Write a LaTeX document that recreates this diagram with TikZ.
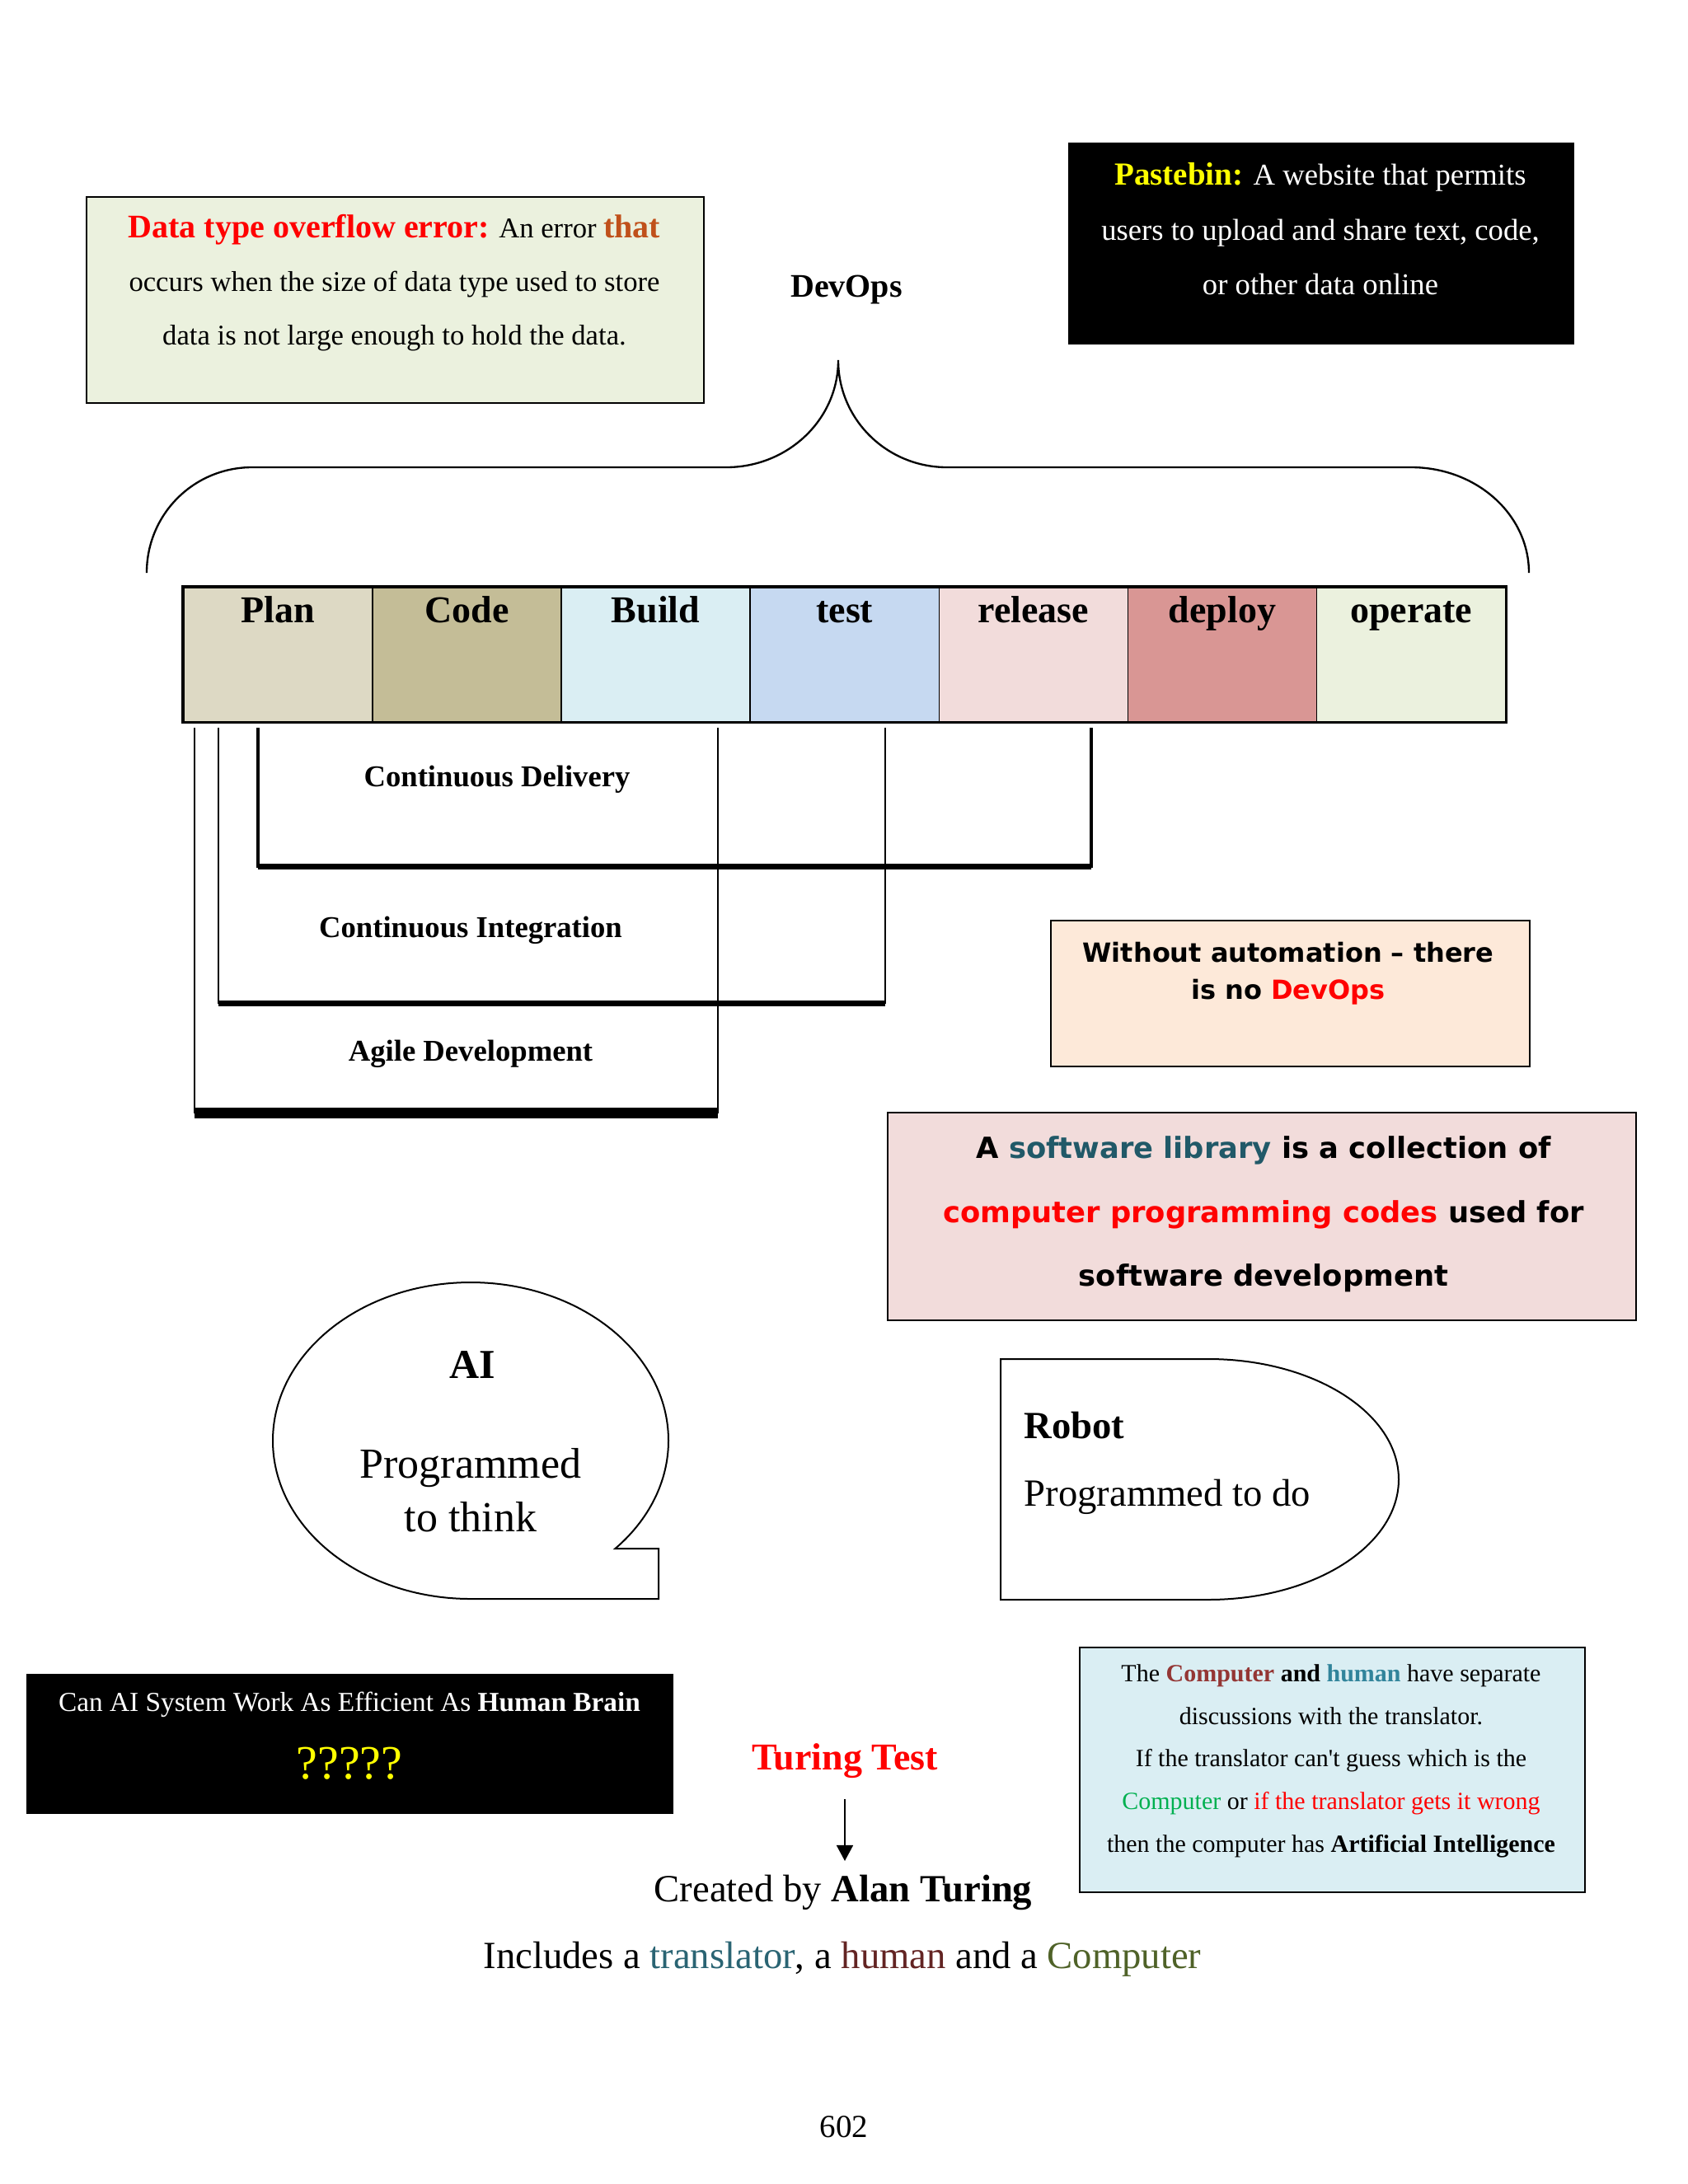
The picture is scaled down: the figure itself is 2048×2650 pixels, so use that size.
\documentclass[tikz,border=0pt]{standalone}
\usepackage{fontspec}
\setmainfont{Liberation Serif}
\newfontfamily\dvsans{DejaVu Sans}
\usetikzlibrary{arrows.meta}
\definecolor{cPlan}{HTML}{DDD9C4}
\definecolor{cCode}{HTML}{C4BD97}
\definecolor{cBuild}{HTML}{DAEEF3}
\definecolor{cTest}{HTML}{C6D9F1}
\definecolor{cRel}{HTML}{F2DCDB}
\definecolor{cDep}{HTML}{D99694}
\definecolor{cOp}{HTML}{EBF1DE}
\definecolor{cPeach}{HTML}{FDE9D9}
\definecolor{cThat}{HTML}{C0501A}
\definecolor{cTeal}{HTML}{215968}
\definecolor{cTrans}{HTML}{2A6473}
\definecolor{cCompRed}{HTML}{943634}
\definecolor{cHum}{HTML}{31849B}
\definecolor{cGreen}{HTML}{00B050}
\definecolor{cHuman}{HTML}{632423}
\definecolor{cOlive}{HTML}{4F6228}
\definecolor{cYel}{HTML}{FFFF00}
\newcommand{\fsz}[2]{\fontsize{#1}{#2}\selectfont}
\begin{document}
\begin{tikzpicture}[x=0.3pt, y=-0.3pt,
  box/.style={draw, line width=0.7pt, inner sep=0pt, anchor=north west},
  txt/.style={inner sep=0pt, align=center, anchor=north},
  one/.style={inner sep=0pt, anchor=base},
  phase/.style={draw, line width=0.45pt, inner sep=0pt, anchor=north west,
    minimum width=68.74pt, minimum height=48.9pt, text height=12.9pt, text depth=36pt,
    font=\bfseries\fsz{13.8}{16}},
  bk/.style={line width=0.6pt},
  bar/.style={line width=2.1pt},
  arr/.style={line width=0.5pt, -{Triangle[length=5.7pt,width=6pt]}},
  blob/.style={draw, line width=0.6pt},
  lbl/.style={one, font=\bfseries\fsz{11}{13}}
]
\useasboundingbox[fill=white] (0,0) rectangle (2048,2650);

% Data type overflow box
\node[box, fill=cOp, minimum width=224.7pt, minimum height=75pt] (dtbox) at (104,238) {};
\node[txt, font=\fsz{10.4}{19.5}] (dttext) at (478.5,242.5) {\strut{\bfseries\fsz{12}{19.5}\color{red}Data type overflow error:} An error {\bfseries\fsz{12}{19.5}\color{cThat}that}\\ occurs when the size of data type used to store\\ data is not large enough to hold the data.};

% Pastebin box
\node[box, fill=black, minimum width=183.6pt, minimum height=72.9pt] (paste) at (1296,173) {};
\node[txt, text=white, font=\fsz{11}{19.95}] (pastetext) at (1602,177.5) {\strut{\bfseries\fsz{11.7}{19.95}\color{cYel}Pastebin:} A website that permits\\ users to upload and share text, code,\\ or other data online};

% DevOps and brace
\node[one, font=\bfseries\fsz{12}{14}] (devops) at (1027,360) {DevOps};
\draw[line width=0.7pt] (178,695) .. controls (178,624) and (235,567) .. (306,567) -- (881,567)
  .. controls (956,567) and (1017,509) .. (1017,437)
  .. controls (1017,509) and (1076,567) .. (1149,567) -- (1712,567)
  .. controls (1791,567) and (1855,624) .. (1855,695);

% Phases
\foreach \i/\nm/\col/\lab in {0/plan/cPlan/Plan, 1/code/cCode/Code, 2/build/cBuild/Build, 3/test/cTest/test, 4/release/cRel/release, 5/deploy/cDep/deploy, 6/operate/cOp/operate}
  \node[phase, fill=\col] (\nm) at ({222+229.14*\i},712) {\lab};
\draw[line width=1pt] (plan.north west) rectangle (operate.south east);

% Brackets
\draw[bk] (236,883) -- (236,1350) -- (871,1350) -- (871,883);
\draw[line width=3.9pt] (236,1350) -- (871,1350);
\draw[bk] (265,883) -- (265,1217) -- (1074,1217) -- (1074,883);
\draw[bar] (265,1217) -- (1074,1217);
\draw[line width=1.2pt] (313,883) -- (313,1051) -- (1324,1051) -- (1324,883);
\draw[bar] (313,1051) -- (1324,1051);
\node[lbl] (cd) at (603,954) {Continuous Delivery};
\node[lbl] (ci) at (571,1137) {Continuous Integration};
\node[lbl] (agile) at (571,1287) {Agile Development};

% Without automation box
\node[box, fill=cPeach, minimum width=174.3pt, minimum height=53.1pt] (noauto) at (1274,1116) {};
\node[txt, font=\dvsans\bfseries\fsz{9.6}{13.5}] (noautotext) at (1563,1135.5) {\strut Without automation – there\\ is no {\color{red}DevOps}};

% Software library box
\node[box, fill=cRel, minimum width=272.4pt, minimum height=75.6pt] (lib) at (1076,1349) {};
\node[txt, font=\dvsans\bfseries\fsz{10.6}{23.25}] (libtext) at (1533,1350.75) {\strut A {\color{cTeal}software library} is a collection of\\ {\color{red}computer programming codes} used for\\ software development};

% AI callout
\draw[blob] (571,1940) arc[start angle=90, end angle=403.1, x radius=240, y radius=192] -- (799,1879) -- (799,1940) -- cycle;
\node[one, font=\bfseries\fsz{15}{18}] (ai) at (573,1672) {AI};
\node[txt, font=\fsz{15.6}{19.5}] (aitext) at (571,1747.5) {\strut Programmed\\ to think};

% Robot
\draw[blob] (1214,1649) -- (1466,1649) arc[start angle=270, end angle=450, x radius=231, y radius=146] -- (1214,1941) -- cycle;
\node[one, anchor=base west, font=\bfseries\fsz{14}{17}] (robot) at (1242,1745) {Robot};
\node[one, anchor=base west, font=\fsz{14}{17}] (robottext) at (1242,1827) {Programmed to do};

% Can AI box
\node[box, fill=black, minimum width=234.9pt, minimum height=50.4pt] (canai) at (32,2031) {};
\node[txt, text=white, font=\fsz{10}{24.6}] (canaitext) at (424,2018.6) {\strut Can AI System Work As Efficient As \textbf{Human Brain}\\ {\fsz{17.4}{20}\color{cYel}?????}};

% Turing test
\node[one, font=\bfseries\fsz{13.8}{16}, text=red] (turing) at (1025,2147) {Turing Test};
\node[one, font=\fsz{14}{17}] (created) at (1023,2307) {Created by \textbf{Alan Turing}};
\draw[arr, shorten <=7.5pt, shorten >=4.8pt] (turing.south) -- (turing.south |- created.north);
\node[one, font=\fsz{14}{17}] (includes) at (1022,2388) {Includes a {\color{cTrans}translator}, a {\color{cHuman}human} and a {\color{cOlive}Computer}};

% Turing box
\node[box, fill=cBuild, minimum width=183.9pt, minimum height=89.1pt] (tbox) at (1309,1998) {};
\node[txt, font=\fsz{9}{15.5}] (tboxtext) at (1615,2003.8) {\strut The {\bfseries\color{cCompRed}Computer} \textbf{and} {\bfseries\color{cHum}human} have separate\\ discussions with the translator.\\ If the translator can\textquotesingle t guess which is the\\ {\color{cGreen}Computer} or {\color{red}if the translator gets it wrong}\\ then the computer has \textbf{Artificial Intelligence}};

% page number
\node[one, font=\fsz{11.7}{14}] (pagenum) at (1024,2593) {602};
\end{tikzpicture}
\end{document}
